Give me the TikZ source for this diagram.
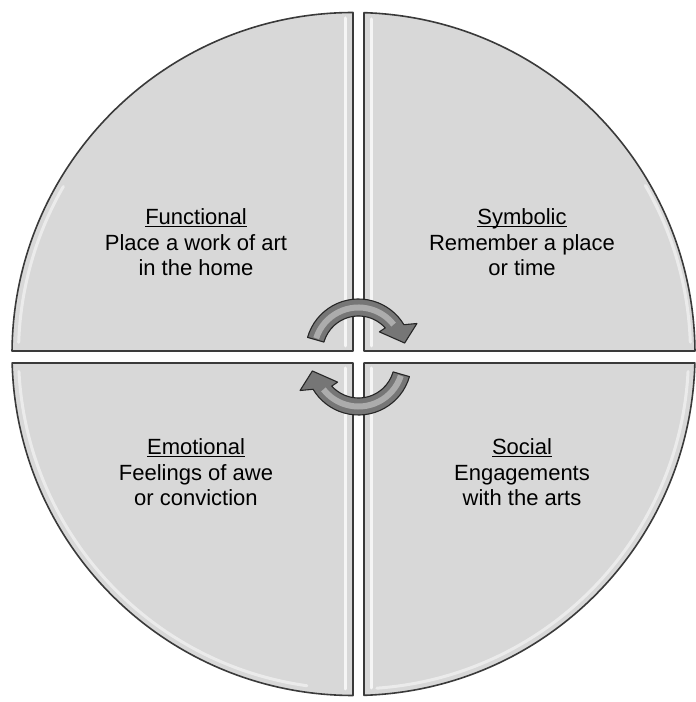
\documentclass[tikz,border=0pt]{standalone}
\usepackage{fontspec}
\setmainfont{Liberation Sans}

\definecolor{panelgray}{RGB}{216,216,216}
\definecolor{edgegray}{RGB}{58,58,58}
\definecolor{arrowgray}{RGB}{118,118,118}
\definecolor{arrowlight}{RGB}{172,172,172}

% underlined heading with the rule at a fixed depth
\newcommand{\headword}[1]{\setbox0\hbox{#1}\rlap{\rule[-2.6pt]{\wd0}{1.2pt}}\box0}

\tikzset{
  panel/.style={fill=panelgray,draw=edgegray,line width=1.6pt,line join=round},
  glint/.style={white,line width=3pt,opacity=0.75,line cap=round},
  cyclearrow/.style={fill=arrowgray,draw=black!85,line width=1.1pt,line join=round},
  caption/.style={align=center,font=\fontsize{22}{25.5}\selectfont}
}

\begin{document}
\begin{tikzpicture}[x=1pt,y=1pt,line cap=round,line join=round]
        \useasboundingbox (0,0) rectangle (696,702);

        % Cuatro cuadrantes del disco
        \draw[panel] (364,351) -- ([shift={(353.5,348)}]88.24:341.5)
            arc[start angle=88.24,end angle=0.50,radius=341.5] -- cycle;
        \draw[panel] (353,351) -- ([shift={(353.5,348)}]90.08:341.5)
            arc[start angle=90.08,end angle=179.50,radius=341.5] -- cycle;
        \draw[panel] (353,339) -- ([shift={(353.5,348)}]181.51:341.5)
            arc[start angle=181.51,end angle=269.92,radius=341.5] -- cycle;
        \draw[panel] (364,339) -- ([shift={(353.5,348)}]271.76:341.5)
            arc[start angle=271.76,end angle=358.49,radius=341.5] -- cycle;

        % Brillos junto a los bordes verticales
        \draw[glint] (345,356) -- (345,684);
        \draw[glint] (371,356) -- (371,683);
        \draw[glint] (345,334) -- (345,13);
        \draw[glint] (371,334) -- (371,14);

        % Brillos junto al borde curvo
        \draw[glint,opacity=0.5] ([shift={(353.5,348)}]150:335)
            arc[start angle=150,end angle=178,radius=335];
        \draw[glint,opacity=0.5] ([shift={(353.5,348)}]183:335)
            arc[start angle=183,end angle=262,radius=335];
        \draw[glint,opacity=0.5] ([shift={(353.5,348)}]274:335)
            arc[start angle=274,end angle=357,radius=335];
        \draw[glint,opacity=0.5] ([shift={(353.5,348)}]2:337)
            arc[start angle=2,end angle=30,radius=337];

        % Flechas del ciclo
        \foreach \cx/\cy/\rot in {358.5/350/0,358.5/340/180}{
            \begin{scope}[shift={(\cx,\cy)},rotate=\rot]
                \draw[cyclearrow] (164:53) arc[start angle=164,end angle=31,radius=53]
                    -- (26:65) -- (11:47) -- (44:29) -- (42:36)
                    arc[start angle=42,end angle=164,radius=36] -- cycle;
                \draw[arrowlight,line width=6pt,line cap=butt]
                    (162:44.5) arc[start angle=162,end angle=38,radius=44.5];
            \end{scope}
        }

        % Textos de cada cuadrante
        \node[caption] (functional) at (196,459.5)
            {\headword{Functional}\\Place a work of art\\in the home};
        \node[caption] (symbolic) at (522,459.5)
            {\headword{Symbolic}\\Remember a place\\or time};
        \node[caption] (emotional) at (196,229.5)
            {\headword{Emotional}\\Feelings of awe\\or conviction};
        \node[caption] (social) at (522,229.5)
            {\headword{Social}\\Engagements\\with the arts};
    \end{tikzpicture}
\end{document}
